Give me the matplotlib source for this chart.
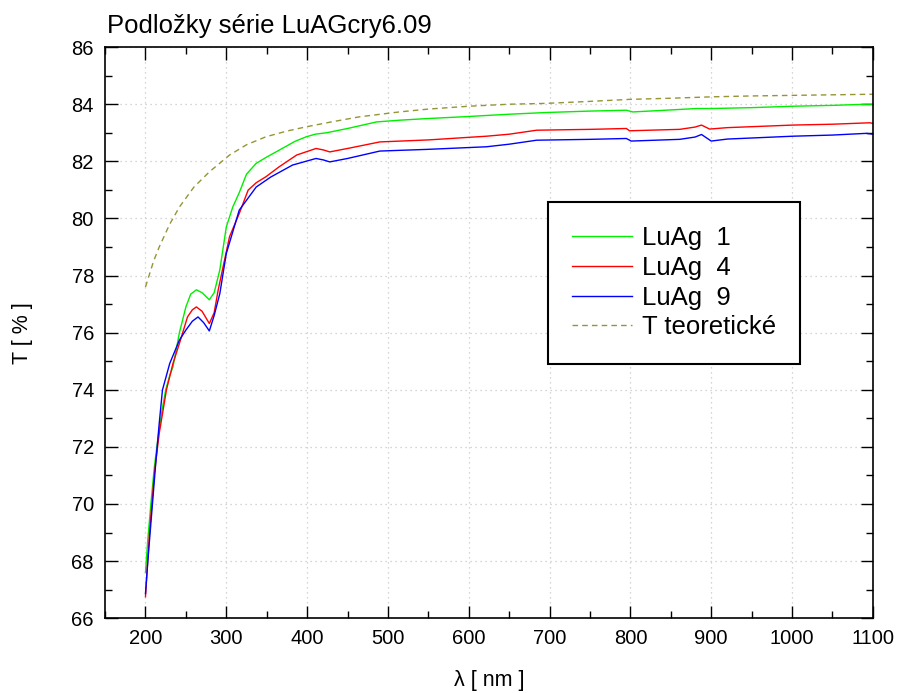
import numpy as np
import matplotlib
matplotlib.use("Agg")
import matplotlib.pyplot as plt
from matplotlib.ticker import MultipleLocator

plt.rcParams['font.family'] = ['Liberation Sans', 'DejaVu Sans']

# LuAg 1
wl_1 = [200, 203, 207, 211, 215, 220, 225, 230, 234, 242, 250, 256, 263, 270, 279, 285, 292,
        300, 308, 316, 325, 337, 350, 366, 385, 399, 410, 424, 450, 486, 514, 550, 593, 650,
        696, 750, 795, 803, 850, 882, 900, 950, 1001, 1050, 1092, 1100]
t_1 = [67.6, 68.8, 70.1, 71.3, 72.2, 73.2, 74.0, 74.5, 74.8, 76.0, 76.9, 77.35, 77.5, 77.4,
       77.15, 77.4, 78.2, 79.7, 80.4, 80.9, 81.55, 81.93, 82.15, 82.4, 82.7, 82.86, 82.95,
       83.0, 83.15, 83.38, 83.44, 83.5, 83.56, 83.65, 83.71, 83.76, 83.79, 83.73, 83.8,
       83.85, 83.85, 83.88, 83.93, 83.96, 84.0, 84.0]

# LuAg 4
wl_4 = [200, 205, 211, 217, 226, 234, 242, 252, 258, 263, 270, 279, 285, 290, 296, 304, 316,
        327, 337, 349, 365, 387, 411, 420, 428, 450, 490, 550, 622, 650, 684, 750, 795, 799,
        861, 880, 888, 898, 920, 1001, 1050, 1096, 1100]
t_4 = [66.75, 69.0, 71.07, 72.47, 74.0, 74.92, 75.62, 76.55, 76.8, 76.9, 76.75, 76.32, 76.7,
       77.5, 78.3, 79.36, 80.17, 80.99, 81.25, 81.46, 81.8, 82.22, 82.45, 82.4, 82.33, 82.45,
       82.68, 82.75, 82.88, 82.95, 83.09, 83.12, 83.15, 83.07, 83.12, 83.2, 83.27, 83.13,
       83.18, 83.27, 83.3, 83.35, 83.33]

# LuAg 9
wl_9 = [200, 203, 209, 213, 217, 221, 230, 242, 250, 258, 265, 272, 279, 285, 292, 300, 316,
        337, 355, 382, 411, 420, 428, 450, 490, 550, 622, 650, 684, 750, 795, 801, 861, 880,
        888, 900, 920, 1001, 1050, 1092, 1100]
t_9 = [66.86, 68.03, 70.13, 71.53, 72.82, 73.99, 74.92, 75.74, 76.09, 76.4, 76.55, 76.35,
       76.06, 76.6, 77.37, 78.77, 80.29, 81.1, 81.45, 81.87, 82.1, 82.05, 81.98, 82.1, 82.36,
       82.42, 82.51, 82.6, 82.74, 82.77, 82.80, 82.71, 82.77, 82.85, 82.94, 82.71, 82.78,
       82.88, 82.92, 82.98, 82.95]

# T teoreticke
wl_t = [200, 210, 217, 230, 242, 260, 279, 304, 325, 349, 375, 399, 430, 465, 514, 550, 600,
        650, 696, 750, 799, 850, 902, 950, 1000, 1050, 1100]
t_t = [77.6, 78.5, 79.0, 79.8, 80.4, 81.1, 81.63, 82.22, 82.58, 82.86, 83.06, 83.21, 83.38,
       83.56, 83.73, 83.83, 83.93, 84.0, 84.03, 84.1, 84.17, 84.21, 84.26, 84.29, 84.31,
       84.33, 84.35]

fig = plt.figure(figsize=(8.98, 6.93), dpi=100)
ax = fig.add_axes([0.117, 0.108, 0.855, 0.824])

ax.plot(wl_1, t_1, color='#00ee00', lw=1.0, label='LuAg  1')
ax.plot(wl_4, t_4, color='#ff0000', lw=1.0, label='LuAg  4')
ax.plot(wl_9, t_9, color='#0000ff', lw=1.0, label='LuAg  9')
ax.plot(wl_t, t_t, color='#959535', lw=1.0, dashes=(4, 3), label='T teoretické')

ax.set_xlim(150, 1100)
ax.set_ylim(66, 86)
ax.xaxis.set_major_locator(MultipleLocator(100))
ax.xaxis.set_minor_locator(MultipleLocator(50))
ax.yaxis.set_major_locator(MultipleLocator(2))
ax.yaxis.set_minor_locator(MultipleLocator(1))
ax.set_xticks(range(200, 1101, 100))

ax.tick_params(which='both', direction='in', top=True, right=True, labelsize=14.5, pad=8)
ax.tick_params(which='major', length=9, width=1)
ax.tick_params(which='minor', length=5, width=1)
ax.grid(True, which='major', color='#c8c8c8', linestyle=(0, (1, 3)), lw=0.9)
for s in ax.spines.values():
    s.set_linewidth(1.2)

ax.set_xlabel('λ [ nm ]', fontsize=15.5, labelpad=16)
ax.set_ylabel('T [ % ]', fontsize=15.5, labelpad=28)
fig.text(0.119, 0.962, 'Podložky série LuAGcry6.09', fontsize=18.5, ha='left', va='center')

leg = ax.legend(loc='upper left', bbox_to_anchor=(0.577, 0.729), borderaxespad=0,
                fontsize=18.5, handlelength=2.3, handletextpad=0.4, labelspacing=0.22,
                borderpad=0.95, fancybox=False, framealpha=1)
leg.get_frame().set_edgecolor('black')
leg.get_frame().set_linewidth(1.5)

fig.savefig('out.png', dpi=100)
